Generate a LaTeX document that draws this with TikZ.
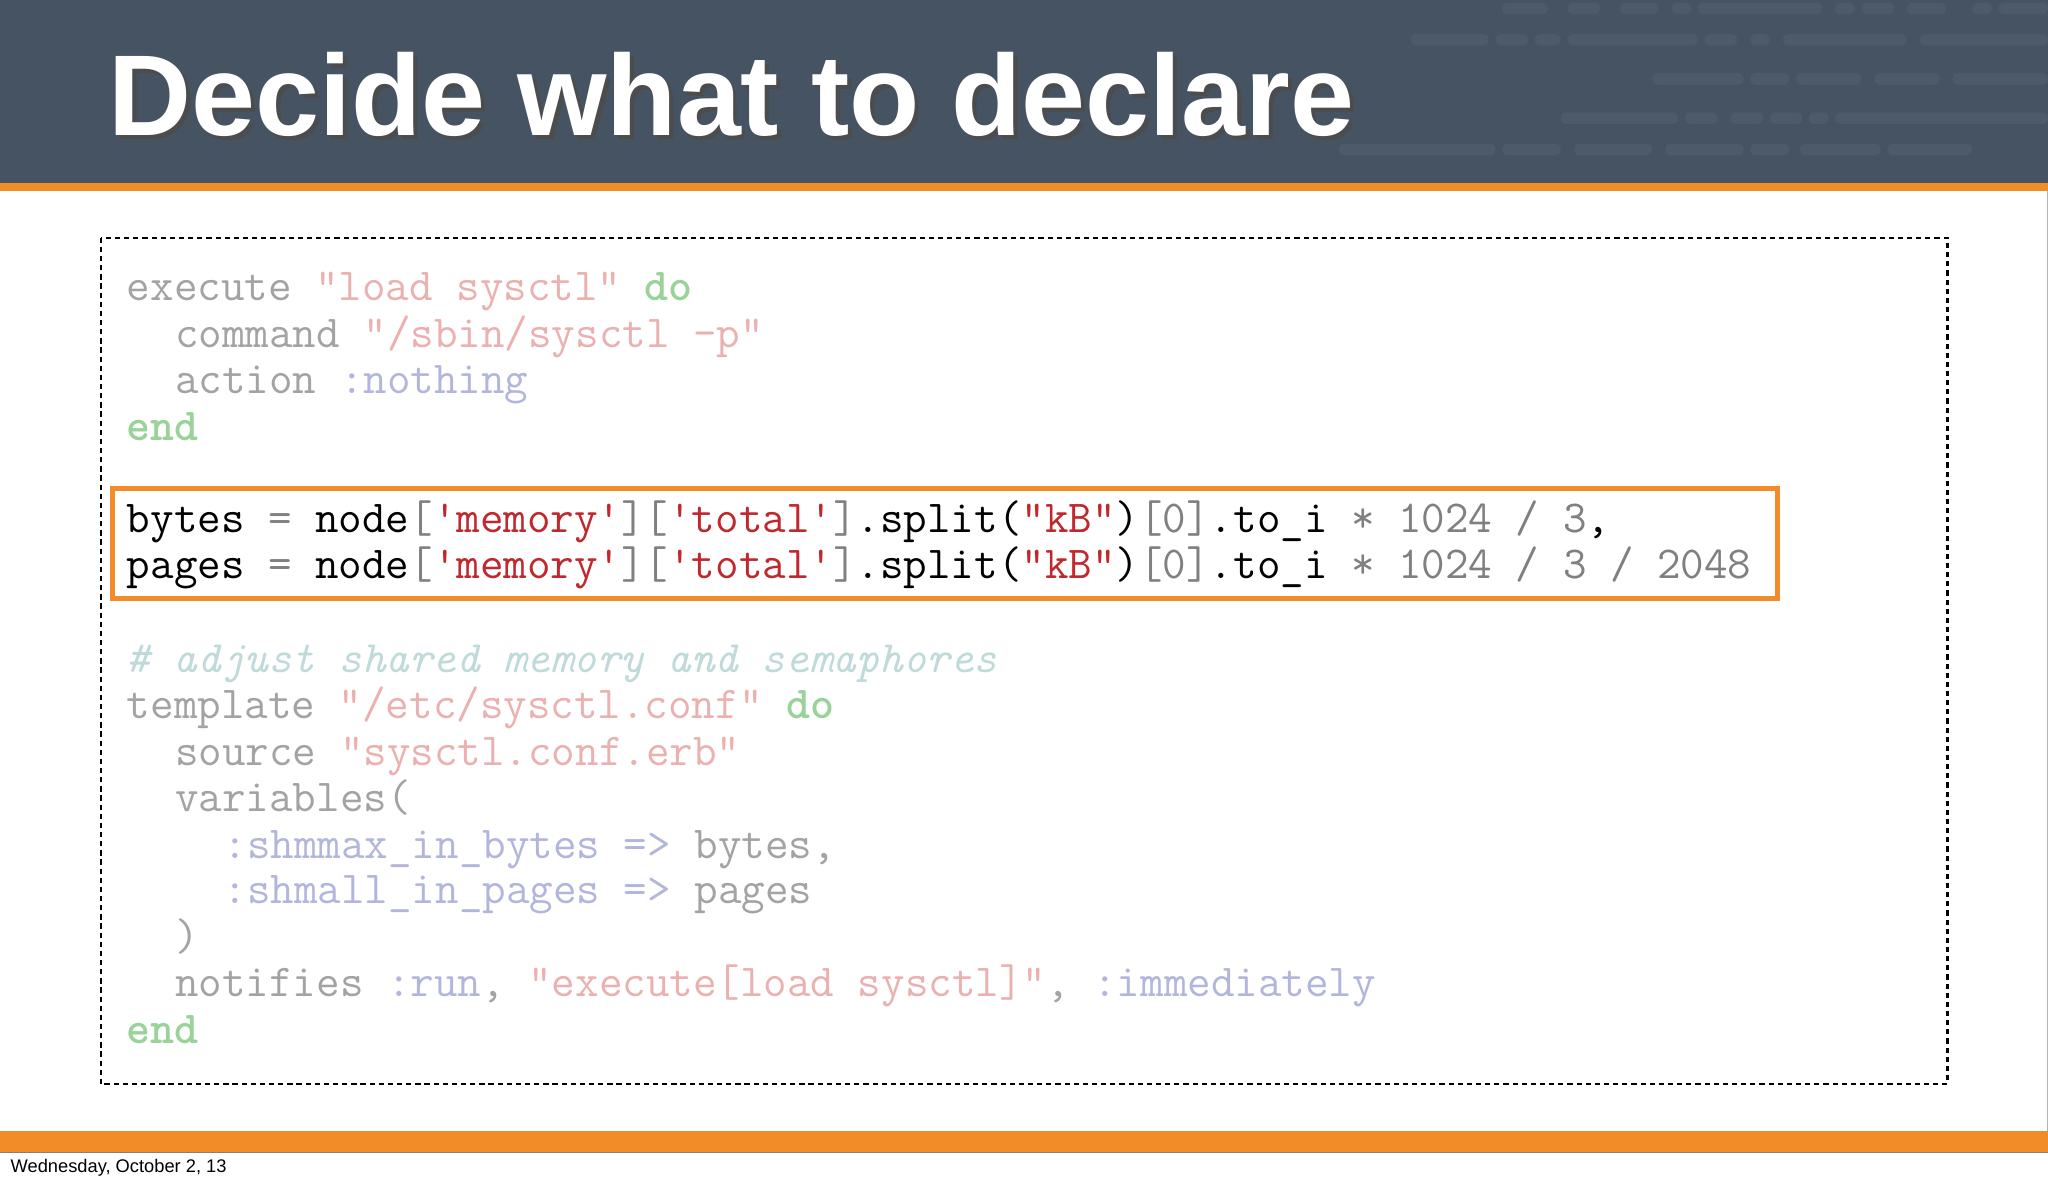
\documentclass[tikz,border=0pt]{standalone}
\usepackage{fontspec}
\setmainfont{Liberation Sans}
\definecolor{slate}{HTML}{465362}
\definecolor{bar}{HTML}{4D5A69}
\definecolor{org}{HTML}{F28C28}
\definecolor{fg}{HTML}{A3A3A3}
\definecolor{fs}{HTML}{EBB0B0}
\definecolor{fy}{HTML}{B3B6DC}
\definecolor{fk}{HTML}{9AD39A}
\definecolor{fc}{HTML}{C0DADA}
\definecolor{hs}{HTML}{C0282D}
\definecolor{hg}{HTML}{808080}
\newcommand{\Fs}[1]{\textcolor{fs}{#1}}
\newcommand{\Fy}[1]{\textcolor{fy}{#1}}
\newcommand{\Fk}[1]{\textcolor{fk}{\bfseries #1}}
\newcommand{\Hs}[1]{\textcolor{hs}{#1}}
\newcommand{\Hg}[1]{\textcolor{hg}{#1}}
\begin{document}
\begin{tikzpicture}[x=1pt,y=-1pt,
  code/.style={anchor=base west,inner sep=0pt,font=\ttfamily\fontsize{35}{35}\selectfont,text=fg},
  hcode/.style={code,text=black}]
\useasboundingbox (0,0) rectangle (1568,906);
\fill[white] (0,0) rectangle (1568,906);
\fill[slate] (0,0) rectangle (1568,140);
% faint background bars
\foreach \y/\list in {0/{1150/1185,1200/1225,1240/1270,1280/1295,1300/1395,1405/1420,1425/1450,1460/1490,1510/1525,1530/1568},
  24/{1080/1140,1145/1170,1175/1195,1200/1300,1305/1330,1340/1355,1365/1460,1470/1568},
  54/{1265/1335,1340/1370,1375/1425,1435/1485,1495/1568},
  84/{1195/1285,1290/1315,1325/1350,1355/1380,1385/1400,1405/1568},
  108/{1025/1145,1150/1195,1205/1265,1275/1335,1340/1370,1378/1440,1445/1510}}{
  \foreach \a/\b in \list {\fill[bar,rounded corners=4pt] (\a,\y+2) rectangle (\b,\y+11);}}
\fill[org] (0,140) rectangle (1568,146);
\node[anchor=base west,inner sep=0pt,font=\bfseries\fontsize{88}{88}\selectfont,text=black!70] at (86,107) {Decide what to declare};
\node (title) [anchor=base west,inner sep=0pt,font=\bfseries\fontsize{88}{88}\selectfont,text=white] at (83,104) {Decide what to declare};
\draw[black,line width=1.6pt,dash pattern=on 4pt off 3pt] (77,182) rectangle (1491,830);
\draw[org,line width=3.5pt] (86,374) rectangle (1361,458);
\node (l1) [code] at (97,230) {execute \Fs{"load sysctl"} \Fk{do}};
\node (l2) [code] at (134,266) {command \Fs{"/sbin/sysctl -p"}};
\node (l3) [code] at (134,301) {action \Fy{:nothing}};
\node (l4) [code] at (97,337) {\Fk{end}};
\node (l5) [hcode] at (97,408) {bytes \Hg{=} node\Hg{[}\Hs{'memory'}\Hg{][}\Hs{'total'}\Hg{]}.split(\Hs{"kB"})\Hg{[0]}.to\_i \Hg{* 1024 / 3},};
\node (l6) [hcode] at (97,443) {pages \Hg{=} node\Hg{[}\Hs{'memory'}\Hg{][}\Hs{'total'}\Hg{]}.split(\Hs{"kB"})\Hg{[0]}.to\_i \Hg{* 1024 / 3 / 2048}};
\node (l7) [code,text=fc,font=\ttfamily\itshape\fontsize{34.3}{35}\selectfont] at (97,515) {\# adjust shared memory and semaphores};
\node (l8) [code] at (97,550) {template \Fs{"/etc/sysctl.conf"} \Fk{do}};
\node (l9) [code] at (134,586) {source \Fs{"sysctl.conf.erb"}};
\node (l10) [code] at (134,621) {variables(};
\node (l11) [code] at (171,657) {\Fy{:shmmax\_in\_bytes} \Fy{=>} bytes,};
\node (l12) [code] at (171,692) {\Fy{:shmall\_in\_pages} \Fy{=>} pages};
\node (l13) [code] at (134,728) {)};
\node (l14) [code] at (134,763) {notifies \Fy{:run}, \Fs{"execute[load sysctl]"}, \Fy{:immediately}};
\node (l15) [code] at (97,799) {\Fk{end}};
\fill[org] (0,866) rectangle (1568,882);
\draw[gray,line width=0.8pt] (0,882.5) -- (1568,882.5);
\draw[gray!60,line width=0.8pt] (1567.5,146) -- (1567.5,866);
\node (foot) [anchor=base west,inner sep=0pt,font=\fontsize{14}{14}\selectfont] at (8,898) {Wednesday, October 2, 13};
\end{tikzpicture}
\end{document}
